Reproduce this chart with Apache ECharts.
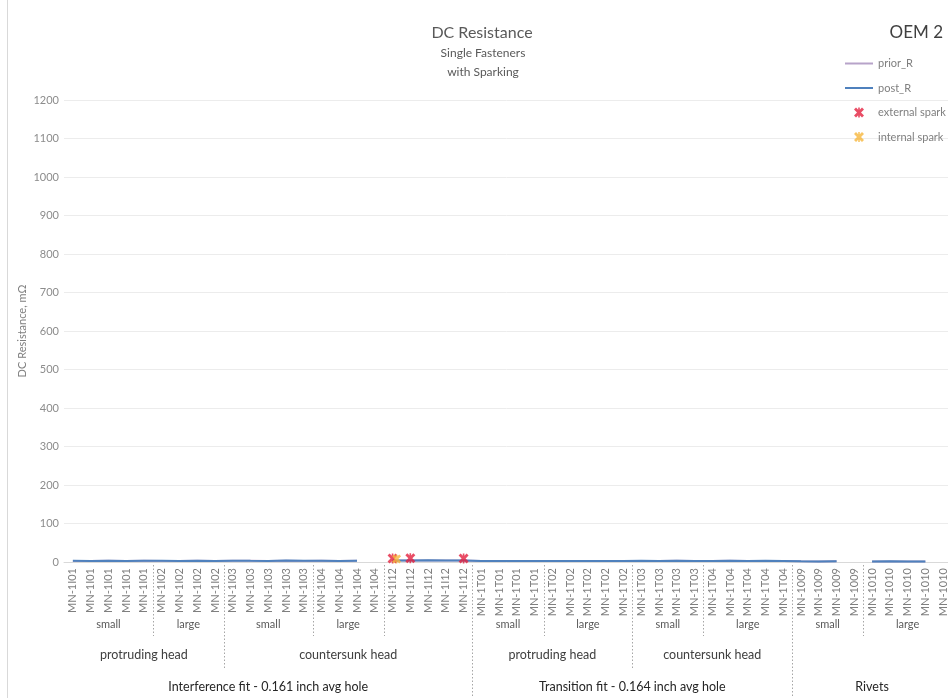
<!DOCTYPE html>
<html>
<head>
<meta charset="utf-8">
<script src="https://cdn.jsdelivr.net/npm/echarts@6/dist/echarts.min.js"></script>
<style>
  html, body { margin: 0; padding: 0; background: #ffffff; }
  #chart { width: 948px; height: 698px; }
</style>
</head>
<body>
<div id="chart"></div>
<script>
// Fastener IDs along the category axis (one entry per tested fastener)
const fasteners = [
  'MN-1I01', 'MN-1I01', 'MN-1I01', 'MN-1I01', 'MN-1I01',
  'MN-1I02', 'MN-1I02', 'MN-1I02', 'MN-1I02',
  'MN-1I03', 'MN-1I03', 'MN-1I03', 'MN-1I03', 'MN-1I03',
  'MN-1I04', 'MN-1I04', 'MN-1I04', 'MN-1I04',
  'MN-1I12', 'MN-1I12', 'MN-1I12', 'MN-1I12', 'MN-1I12',
  'MN-1T01', 'MN-1T01', 'MN-1T01', 'MN-1T01',
  'MN-1T02', 'MN-1T02', 'MN-1T02', 'MN-1T02', 'MN-1T02',
  'MN-1T03', 'MN-1T03', 'MN-1T03', 'MN-1T03',
  'MN-1T04', 'MN-1T04', 'MN-1T04', 'MN-1T04', 'MN-1T04',
  'MN-1009', 'MN-1009', 'MN-1009', 'MN-1009',
  'MN-1010', 'MN-1010', 'MN-1010', 'MN-1010', 'MN-1010'
];

// DC resistance before sparking test, mΩ
const priorR = [
  2.9, 2.7, 3.2, 2.8, 3.0,
  2.9, 2.6, 3.1, 2.8,
  3.3, 3.0, 2.7, 3.4, 2.9,
  3.1, 2.8, 3.2, null,
  3.9, 3.6, 4.2, 3.7, 4.0,
  2.5, 2.8, 2.4, 2.7,
  2.6, 2.3, 2.8, 2.5, 2.7,
  2.9, 2.6, 3.1, 2.8,
  2.7, 3.0, 2.5, 2.9, 2.8,
  1.7, 1.5, 1.8, null,
  1.4, 1.6, 1.3, 1.5, null
];

// DC resistance after sparking test, mΩ
const postR = [
  3.1, 2.8, 3.4, 2.9, 3.2,
  3.0, 2.7, 3.3, 2.9,
  3.5, 3.1, 2.8, 3.6, 3.0,
  3.2, 2.9, 3.4, null,
  4.1, 3.8, 4.4, 3.9, 4.2,
  2.6, 2.9, 2.5, 2.8,
  2.7, 2.4, 2.9, 2.6, 2.8,
  3.0, 2.7, 3.2, 2.9,
  2.8, 3.1, 2.6, 3.0, 2.9,
  1.8, 1.6, 1.9, null,
  1.5, 1.7, 1.4, 1.6, null
];

// Spark observations, flagged at a small value just above the trace
const externalSpark = [
  null, null, null, null, null, null, null, null, null, null,
  null, null, null, null, null, null, null, null, 9, 10,
  null, null, 9, null, null, null, null, null, null, null,
  null, null, null, null, null, null, null, null, null, null,
  null, null, null, null, null, null, null, null, null, null
];
const internalSpark = [
  null, null, null, null, null, null, null, null, null, null,
  null, null, null, null, null, null, null, null, 8, null,
  null, null, null, null, null, null, null, null, null, null,
  null, null, null, null, null, null, null, null, null, null,
  null, null, null, null, null, null, null, null, null, null
];

// Y-axis scale
const yMin = 0, yMax = 1200, yStep = 100;

// Multi-level category grouping (label, number of fasteners)
const sizeLabels = ['small', 'large', 'small', 'large', '', 'small', 'large', 'small', 'large', 'small', 'large'];
const sizeCounts = [5, 4, 5, 4, 5, 4, 5, 4, 5, 4, 5];
const headLabels = ['protruding head', 'countersunk head', 'protruding head', 'countersunk head', ''];
const headCounts = [9, 14, 9, 9, 9];
const fitLabels = ['Interference fit - 0.161 inch avg hole', 'Transition fit - 0.164 inch avg hole', 'Rivets'];
const fitCounts = [23, 18, 9];

const FONT = 'Lato, "Open Sans", sans-serif';
const sparkSymbol = 'path://M2,0 L5,3 L8,0 L10,2 L7,5 L10,8 L8,10 L5,7 L2,10 L0,8 L3,5 L0,2 Z M4.2,0 L5.8,0 L5.8,10 L4.2,10 Z';

const chart = echarts.init(document.getElementById('chart'), null, { renderer: 'canvas' });

chart.setOption({
  backgroundColor: '#ffffff',
  animation: false,
  textStyle: { fontFamily: FONT },
  grid: { left: 64, top: 100, width: 888, height: 462, outerBoundsMode: 'none', containLabel: false },
  legend: {
    orient: 'vertical',
    left: 839,
    top: 53,
    itemWidth: 28,
    itemHeight: 10,
    itemGap: 13.5,
    textStyle: { fontSize: 11, color: '#7f7f7f', fontFamily: FONT },
    data: [
      { name: 'prior_R', itemStyle: { opacity: 0 } },
      { name: 'post_R', itemStyle: { opacity: 0 } },
      'external spark',
      'internal spark'
    ]
  },
  xAxis: {
    type: 'category',
    data: fasteners,
    boundaryGap: true,
    axisLine: { show: true, lineStyle: { color: '#d9d9d9', width: 1 } },
    axisTick: { show: false },
    splitLine: { show: false },
    axisLabel: {
      interval: 0,
      rotate: 90,
      margin: 6,
      fontSize: 11,
      color: '#7f7f7f',
      fontFamily: FONT
    }
  },
  yAxis: {
    type: 'value',
    min: yMin,
    max: yMax,
    interval: yStep,
    name: 'DC Resistance, mΩ',
    nameLocation: 'middle',
    nameGap: 36,
    nameMoveOverlap: false,
    nameTextStyle: { fontSize: 11, color: '#7f7f7f', fontFamily: FONT },
    axisLine: { show: false },
    axisTick: { show: false },
    splitLine: { show: true, lineStyle: { color: '#ececec', width: 1 } },
    axisLabel: {
      fontSize: 11,
      color: '#8c8c8c',
      margin: 5,
      fontFamily: FONT,
      formatter: (v) => String(v)
    }
  },
  series: [
    {
      name: 'prior_R',
      type: 'line',
      data: priorR,
      symbol: 'none',
      connectNulls: false,
      lineStyle: { color: '#b7a3c9', width: 2 },
      itemStyle: { color: '#b7a3c9' },
      z: 2
    },
    {
      name: 'post_R',
      type: 'line',
      data: postR,
      symbol: 'none',
      connectNulls: false,
      lineStyle: { color: '#4f81bd', width: 2 },
      itemStyle: { color: '#4f81bd' },
      z: 3
    },
    {
      name: 'external spark',
      type: 'scatter',
      data: externalSpark,
      symbol: sparkSymbol,
      symbolSize: 10,
      itemStyle: { color: '#e3203f' },
      z: 4
    },
    {
      name: 'internal spark',
      type: 'scatter',
      data: internalSpark,
      symbol: sparkSymbol,
      symbolSize: 9,
      symbolOffset: [4, 0],
      itemStyle: { color: '#f6b73c' },
      z: 5
    }
  ]
});

// Category group labels and dotted separators below the axis, placed from the axis scale
function drawGroups() {
  const px = (i) => chart.convertToPixel({ xAxisIndex: 0 }, i);
  const band = px(1) - px(0);
  const leftEdge = (i) => px(i) - band / 2;
  const graphics = [];

  const rows = [
    { labels: sizeLabels, counts: sizeCounts, y: 624, size: 11, color: '#595959', lineEnd: 636 },
    { labels: headLabels, counts: headCounts, y: 655, size: 12.5, color: '#404040', lineEnd: 670 },
    { labels: fitLabels, counts: fitCounts, y: 687, size: 12.5, color: '#262626', lineEnd: 700 }
  ];
  const depth = {};
  rows.forEach((row) => {
    let start = 0;
    row.labels.forEach((label, k) => {
      const n = row.counts[k];
      const x0 = leftEdge(start);
      const x1 = leftEdge(start + n);
      if (label) {
        graphics.push({
          type: 'text',
          silent: true,
          style: {
            x: (x0 + x1) / 2, y: row.y, text: label,
            textAlign: 'center', textVerticalAlign: 'middle',
            fontSize: row.size, fontFamily: FONT, fill: row.color
          }
        });
      }
      if (start > 0) depth[start] = row.lineEnd;
      start += n;
    });
  });
  Object.keys(depth).forEach((key) => {
    const x = Math.round(leftEdge(Number(key))) + 0.5;
    graphics.push({
      type: 'line',
      silent: true,
      shape: { x1: x, y1: 565, x2: x, y2: depth[key] },
      style: { stroke: '#a6a6a6', lineWidth: 1, lineDash: [1.5, 2] }
    });
  });

  // titles
  graphics.push(
    { type: 'text', silent: true, style: { x: 482, y: 33, text: 'DC Resistance', textAlign: 'center', textVerticalAlign: 'middle', fontSize: 16, fontFamily: FONT, fill: '#595959' } },
    { type: 'text', silent: true, style: { x: 483, y: 53, text: 'Single Fasteners', textAlign: 'center', textVerticalAlign: 'middle', fontSize: 12, fontFamily: FONT, fill: '#595959' } },
    { type: 'text', silent: true, style: { x: 483, y: 72, text: 'with Sparking', textAlign: 'center', textVerticalAlign: 'middle', fontSize: 12, fontFamily: FONT, fill: '#595959' } },
    { type: 'text', silent: true, style: { x: 943, y: 33, text: 'OEM 2', textAlign: 'right', textVerticalAlign: 'middle', fontSize: 17, fontFamily: FONT, fill: '#404040' } },
    // chart frame edge
    { type: 'line', silent: true, shape: { x1: 7.5, y1: 0, x2: 7.5, y2: 698 }, style: { stroke: '#d9d9d9', lineWidth: 1 } }
  );

  chart.setOption({ graphic: graphics });
}
drawGroups();
</script>
</body>
</html>
